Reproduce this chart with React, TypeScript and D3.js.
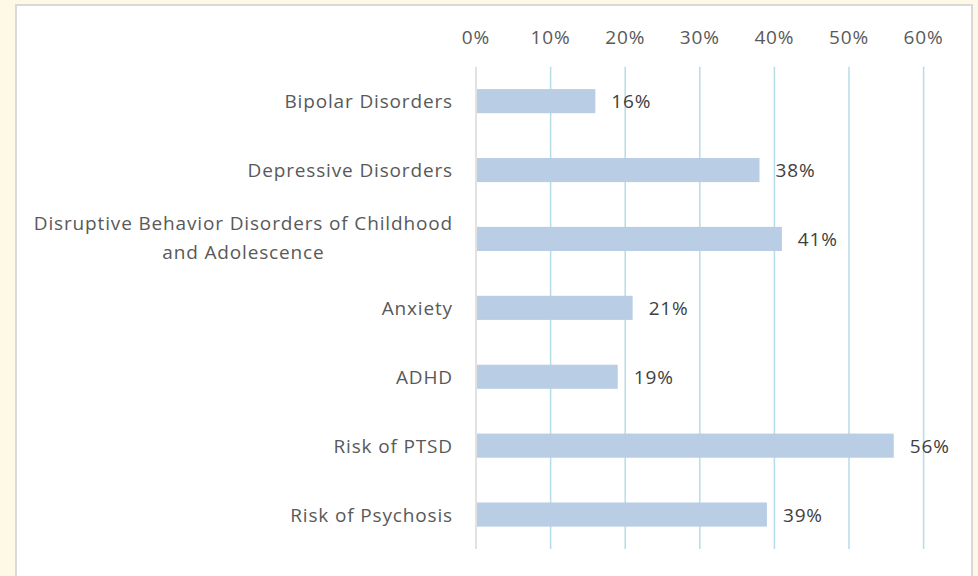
import React from "react";
import * as d3 from "d3";

const categories: string[][] = [
  ["Bipolar Disorders"],
  ["Depressive Disorders"],
  ["Disruptive Behavior Disorders of Childhood", "and Adolescence"],
  ["Anxiety"],
  ["ADHD"],
  ["Risk of PTSD"],
  ["Risk of Psychosis"],
];
const values: number[] = [0.16, 0.38, 0.41, 0.21, 0.19, 0.56, 0.39];
const ticks: number[] = [0, 0.1, 0.2, 0.3, 0.4, 0.5, 0.6];

const W = 978;
const H = 576;
const FONT = "'Open Sans', sans-serif";
const FS = 19;
const LS = 0.85;

export default function App() {
  const x = d3.scaleLinear().domain([0, 0.6]).range([476, 923.6]);
  const y = d3
    .scaleBand<number>()
    .domain(d3.range(categories.length))
    .range([66.7, 549])
    .paddingInner(0.65)
    .paddingOuter(0.325);
  const fmt = d3.format(".0%");
  const bh = y.bandwidth();
  const [y0, y1] = [66.7, 549];

  return (
    <svg
      width={W}
      height={H}
      style={{ position: "absolute", left: 0, top: 0 }}
      fontFamily={FONT}
      fontSize={FS}
      letterSpacing={LS}
    >
      <rect x={0} y={0} width={W} height={H} fill="#fdf9e6" />
      <rect x={16} y={5} width={956} height={H} fill="#ffffff" stroke="#d9d9d9" strokeWidth={2} />
      {ticks.map((t, i) => (
        <g key={i}>
          <line
            x1={x(t)}
            x2={x(t)}
            y1={y0}
            y2={y1}
            stroke={i === 0 ? "#d9d9d9" : "#b4dde8"}
            strokeWidth={1.5}
          />
          <text
            x={x(t)}
            y={37}
            textAnchor="middle"
            dominantBaseline="central"
            fill="#595959"
          >
            {fmt(t)}
          </text>
        </g>
      ))}
      {values.map((v, i) => {
        const by = y(i)!;
        const cy = by + bh / 2;
        const lines = categories[i];
        const lh = 29;
        return (
          <g key={i}>
            <rect x={x(0) + 1} y={by} width={x(v) - x(0) - 1} height={bh} fill="#b9cde5" />
            <text
              x={x(v) + 16}
              y={cy}
              dominantBaseline="central"
              fill="#404040"
            >
              {fmt(v)}
            </text>
            {lines.length === 1 ? (
              <text
                x={453}
                y={cy}
                textAnchor="end"
                dominantBaseline="central"
                fill="#595959"
              >
                {lines[0]}
              </text>
            ) : (
              <MultiLabel lines={lines} right={453} cy={cy - 1} lh={lh} />
            )}
          </g>
        );
      })}
    </svg>
  );
}

function MultiLabel({ lines, right, cy, lh }: { lines: string[]; right: number; cy: number; lh: number }) {
  const ref = React.useRef<SVGGElement>(null);
  const [cx, setCx] = React.useState<number | null>(null);
  React.useLayoutEffect(() => {
    if (!ref.current) return;
    const texts = ref.current.querySelectorAll("text");
    let maxW = 0;
    texts.forEach((t) => {
      maxW = Math.max(maxW, (t as SVGTextElement).getBBox().width);
    });
    setCx(right - maxW / 2);
  }, [lines, right]);
  const n = lines.length;
  return (
    <g ref={ref} style={{ visibility: cx === null ? "hidden" : "visible" }}>
      {lines.map((l, k) => (
        <text
          key={k}
          x={cx ?? right}
          y={cy + (k - (n - 1) / 2) * lh}
          textAnchor="middle"
          dominantBaseline="central"
          fill="#595959"
        >
          {l}
        </text>
      ))}
    </g>
  );
}
